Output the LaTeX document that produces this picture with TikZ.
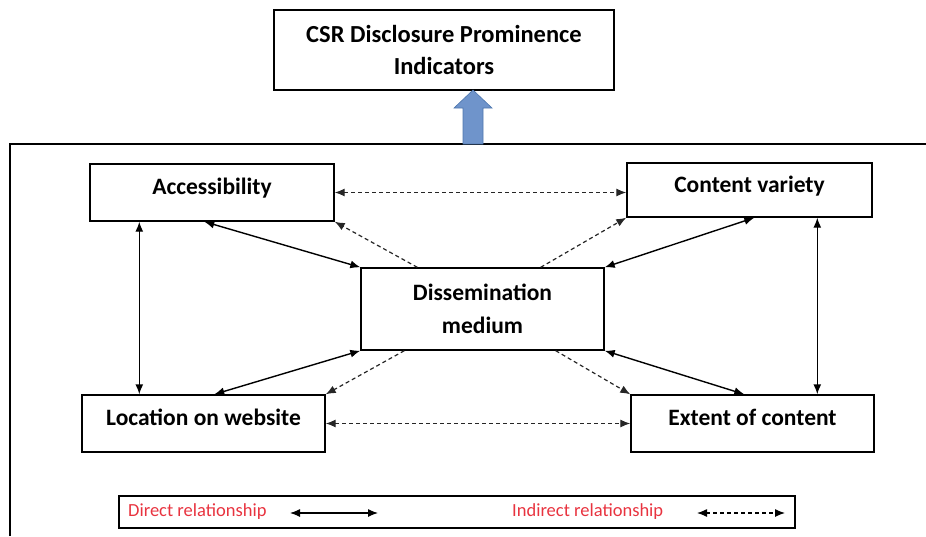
\documentclass[tikz,border=0pt]{standalone}
\usepackage{fontspec}
\setmainfont{Carlito}
\usepackage{xcolor}
\usepackage{tikz}
\usetikzlibrary{arrows.meta}
\definecolor{liftblue}{HTML}{6F94CB}
\definecolor{liftedge}{HTML}{4E77AE}
\definecolor{legendred}{HTML}{E8333F}
\tikzset{
    factor/.style={rectangle, draw=black, line width=1.4pt, fill=white, minimum width=243pt, minimum height=57pt, inner sep=0pt, align=center, font=\fontsize{23.5}{33}\selectfont\bfseries},
    oneline/.style={factor, text depth=12pt},
    headline/.style={factor, minimum width=340pt, minimum height=80pt, font=\fontsize{24.5}{32}\selectfont\bfseries},
    direct/.style={{Latex[length=10pt,width=8pt]}-{Latex[length=10pt,width=8pt]}, line width=1.4pt},
    indirect/.style={-{Latex[length=10pt,width=8pt]}, line width=1.2pt, dash pattern=on 4pt off 3pt, color=black!85},
    bothindirect/.style={indirect, {Latex[length=10pt,width=8pt]}-{Latex[length=10pt,width=8pt]}},
    keytext/.style={font=\fontsize{18.5}{20}\selectfont, text=legendred, inner sep=0pt}
}
\begin{document}
\begin{tikzpicture}[x=1pt, y=-1pt]
    \useasboundingbox (0,0) rectangle (926,536);
    \draw [line width=1.3pt] (10,536) -- (10,144) -- (926,144);

    \node [headline] (csr) at (444,50) {CSR Disclosure Prominence\\Indicators};
    \node [oneline, minimum width=244pt] (access) at (212,192.5) {Accessibility};
    \node [oneline, minimum width=245pt, minimum height=54pt] (variety) at (749.5,190) {Content variety};
    \node [factor, minimum height=82pt] (medium) at (482.5,309) {Dissemination\\medium};
    \node [oneline] (location) at (203.5,423.5) {Location on website};
    \node [oneline] (extent) at (752.5,423.5) {Extent of content};

    \fill [liftblue, draw=liftedge, line width=0.6pt] (463,144) -- (463,108) -- (454,108) -- (473,90) -- (492,108) -- (483,108) -- (483,144) -- cycle;

    \draw [bothindirect] (access.east) -- (access.east -| variety.west);
    \draw [bothindirect] (location.east) -- (extent.west);
    \draw [direct] ([xshift=50pt]access.south west) -- ([xshift=58pt]location.north west);
    \draw [direct] ([xshift=191pt]variety.south west) -- ([xshift=187pt]extent.north west);

    \draw [direct] ([xshift=115pt]access.south west) -- (medium.north west);
    \draw [indirect] ([xshift=57pt]medium.north west) -- (access.south east);
    \draw [indirect] ([xshift=-64pt]medium.north east) -- (variety.south west);
    \draw [direct] ([xshift=128pt]variety.south west) -- (medium.north east);
    \draw [direct] ([xshift=133pt]location.north west) -- (medium.south west);
    \draw [indirect] ([xshift=44pt]medium.south west) -- (location.north east);
    \draw [indirect] ([xshift=-49pt]medium.south east) -- (extent.north west);
    \draw [direct] (medium.south east) -- ([xshift=114pt]extent.north west);

    \node [draw=black, line width=1.3pt, minimum width=676pt, minimum height=32pt, inner sep=0pt] (legend) at (457,512) {};
    \node [keytext, anchor=west] (directkey) at (128,512) {Direct relationship};
    \node [keytext, anchor=west] (indirectkey) at (512,512) {Indirect relationship};
    \coordinate (directa) at (290,513);
    \coordinate (directb) at (378,513);
    \coordinate (indirecta) at (697,513);
    \coordinate (indirectb) at (785,513);
    \draw [direct, line width=1.2pt] (directa) -- (directb);
    \draw [bothindirect, color=black] (indirecta) -- (indirectb);
\end{tikzpicture}
\end{document}
